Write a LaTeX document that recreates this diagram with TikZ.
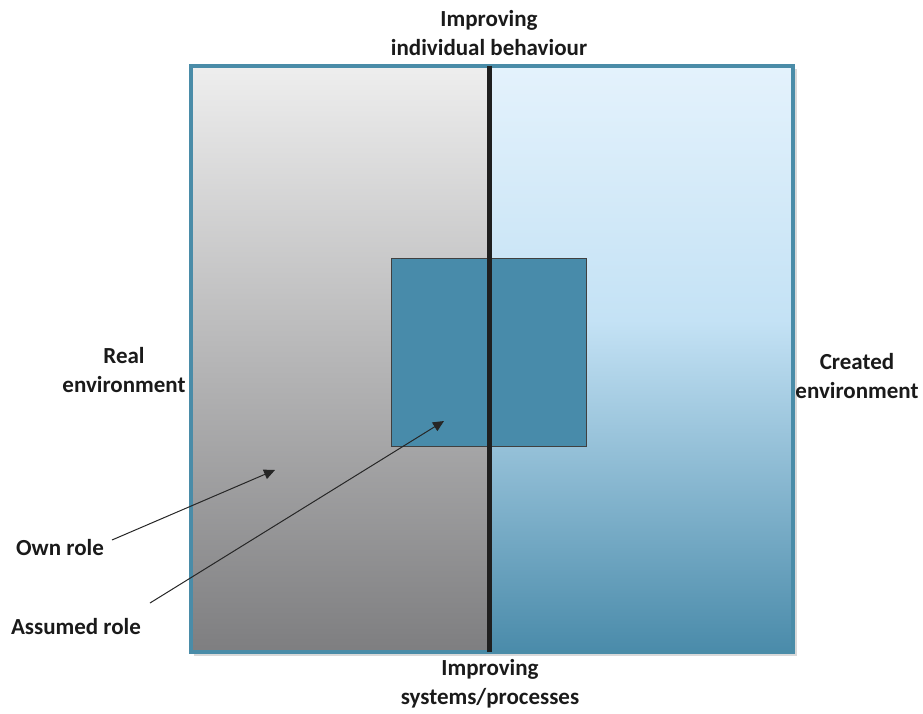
\documentclass[tikz,border=0pt]{standalone}
\usepackage{fontspec}
\setmainfont{Carlito}
\usetikzlibrary{arrows.meta}
\definecolor{frameblue}{HTML}{4A8CA8}
\definecolor{leftTop}{HTML}{EEEEEE}
\definecolor{leftBot}{HTML}{7E7E80}
\definecolor{rightTop}{HTML}{E4F2FC}
\definecolor{rightMid}{HTML}{C4E2F5}
\definecolor{rightBot}{HTML}{4A8BAA}
\definecolor{innerblue}{HTML}{488BAA}
\definecolor{txt}{HTML}{1A1A1A}
\begin{document}
\begin{tikzpicture}[x=1pt,y=-1pt,
  lbl/.style={font=\bfseries\fontsize{23}{29}\selectfont, align=center, text=txt, inner sep=0pt},
  pointer/.style={draw=black!85, line width=1pt, -{Triangle[length=11pt,width=10pt]}}]
\useasboundingbox (0,0) rectangle (923,714);
% shadow
\fill[black!15] (194,69) rectangle (797,656);
% halves
\shade[top color=leftTop, bottom color=leftBot] (191,66) rectangle (489,652);
\shade[top color=rightTop, bottom color=rightMid] (489,66) rectangle (793,320.5);
\shade[top color=rightMid, bottom color=rightBot] (489,320) rectangle (793,652);
% frame
\node[draw=frameblue, line width=3.5pt, minimum width=602pt, minimum height=586pt, inner sep=0pt] (frame) at (492,359) {};
% inner square
\node[draw=black!75, line width=1pt, fill=innerblue, minimum width=195pt, minimum height=188pt, inner sep=0pt] (inner) at (488.5,352) {};
% divider
\coordinate (divtop) at (489,66);
\coordinate (divbot) at (489,652);
\draw[line width=5pt, draw=black!88] (divtop) -- (divbot);
% labels
\node[lbl] (top) at (489,33) {Improving\\individual behaviour};
\node[lbl] (bottom) at (490,684) {Improving\\systems/processes};
\node[lbl] (real) at (124,370) {Real\\environment};
\node[lbl] (created) at (857,376) {Created\\environment};
\node[lbl] (own) at (60,548) {Own role};
\node[lbl] (assumed) at (76,627) {Assumed role};
% arrows
\coordinate (ownstart) at (112,540);
\coordinate (ownend) at (275,470);
\coordinate (assstart) at (150,603);
\coordinate (assend) at (444,421);
\draw[pointer] (ownstart) -- (ownend);
\draw[pointer] (assstart) -- (assend);
\end{tikzpicture}
\end{document}
